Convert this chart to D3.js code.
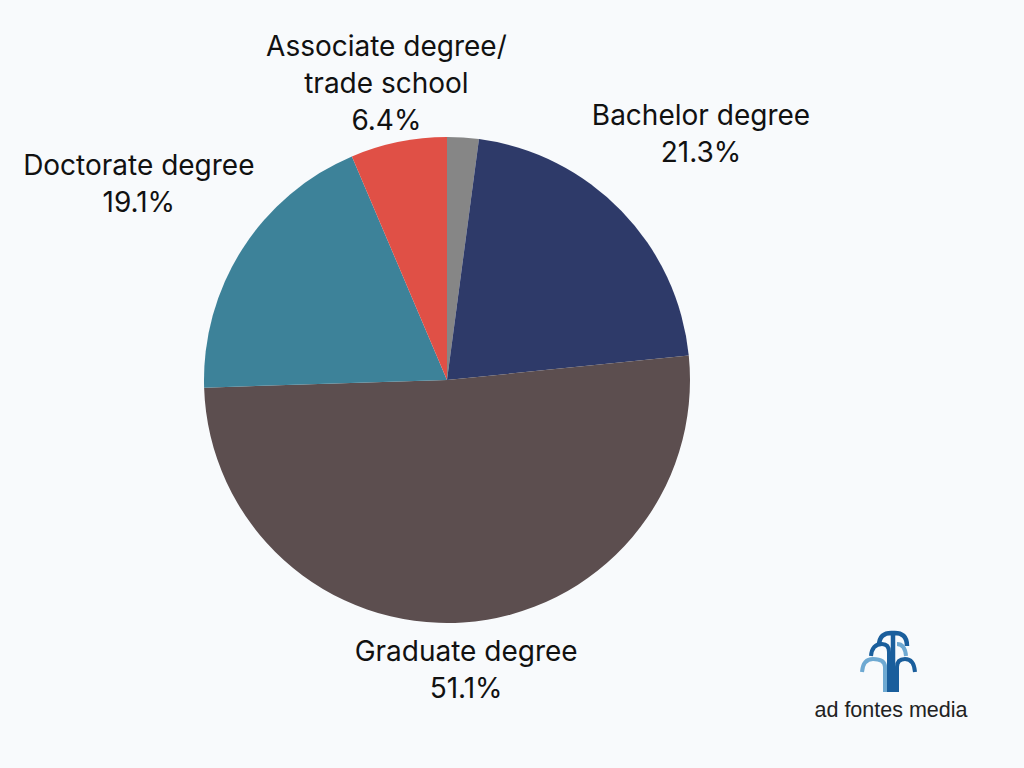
<!DOCTYPE html>
<html>
<head>
<meta charset="utf-8">
<script src="https://cdn.jsdelivr.net/npm/d3@7"></script>
<style>
  html, body { margin: 0; padding: 0; background: #f8fafc; }
  svg { display: block; }
</style>
</head>
<body>
<svg id="chart" width="1024" height="768"></svg>
<script>
// slice data, clockwise from 12 o'clock
var categories = ["Other", "Bachelor degree", "Graduate degree", "Doctorate degree", "Associate degree/\ntrade school"];
var values = [2.1, 21.3, 51.1, 19.1, 6.4];
var showLabel = [false, true, true, true, true];
var colors = ["#868686", "#2e3a69", "#5c4e4f", "#3d8299", "#e05046"];

var svg = d3.select("#chart"),
	width = +svg.attr("width"),
	height = +svg.attr("height");

svg.append("rect").attr("width", width).attr("height", height).attr("fill", "#f8fafc");

var cx = 447, cy = 380, radius = 243;

var slices = values.map(function (v, i) {
	return { name: categories[i], value: v, color: colors[i], label: showLabel[i] };
});

var pie = d3.pie()
	.sort(null)
	.value(function (d) { return d.value; });

var arc = d3.arc().innerRadius(0).outerRadius(radius);

var g = svg.append("g").attr("transform", "translate(" + cx + "," + cy + ")");

var arcs = pie(slices);

g.selectAll("path")
	.data(arcs)
	.enter().append("path")
	.attr("d", arc)
	.attr("fill", function (d) { return d.data.color; });

// labels, pushed further out on the sides than top/bottom
var lineH = 37;
var lab = g.selectAll("text.lab")
	.data(arcs.filter(function (d) { return d.data.label; }))
	.enter().append("text")
	.attr("class", "lab")
	.attr("text-anchor", "middle")
	.attr("font-family", "Inter, 'Noto Sans', sans-serif")
	.attr("font-size", 28)
	.attr("fill", "#111")
	.each(function (d) {
		var a = (d.startAngle + d.endAngle) / 2;
		var r = radius + 41 + 97 * Math.abs(Math.sin(a));
		var x = r * Math.sin(a), y = -r * Math.cos(a);
		var lines = d.data.name.split("\n");
		lines.push(d.data.value.toFixed(1) + "%");
		var y0 = y - (lines.length - 1) * lineH / 2 + 10;
		var t = d3.select(this);
		lines.forEach(function (s, i) {
			t.append("tspan").attr("x", x).attr("y", y0 + i * lineH).text(s);
		});
	});

// ad fontes media logo
var dark = "#1a5e9c", light = "#6ea9d2";
var logo = svg.append("g").attr("fill", "none");
logo.append("path")
	.attr("d", "M879,646 Q879,632 893,633 Q907,632 907,646 M893,634 V692")
	.attr("stroke", dark).attr("stroke-width", 4.5);
logo.append("path")
	.attr("d", "M871,656 Q872,644 882,644 Q889,644 889,652 V692 M915,672 Q914,659 905,659 Q897,659 897,667 V692")
	.attr("stroke", dark).attr("stroke-width", 4);
logo.append("path")
	.attr("d", "M906,656 Q905,644 897,644 M862,672 Q863,659 873,659 Q885,659 885,667 V692")
	.attr("stroke", light).attr("stroke-width", 4);
svg.append("text")
	.attr("x", 891).attr("y", 717)
	.attr("text-anchor", "middle")
	.attr("font-family", "'Liberation Sans', Arial, sans-serif")
	.attr("font-size", 21.5)
	.attr("fill", "#222")
	.text("ad fontes media");
</script>
</body>
</html>
